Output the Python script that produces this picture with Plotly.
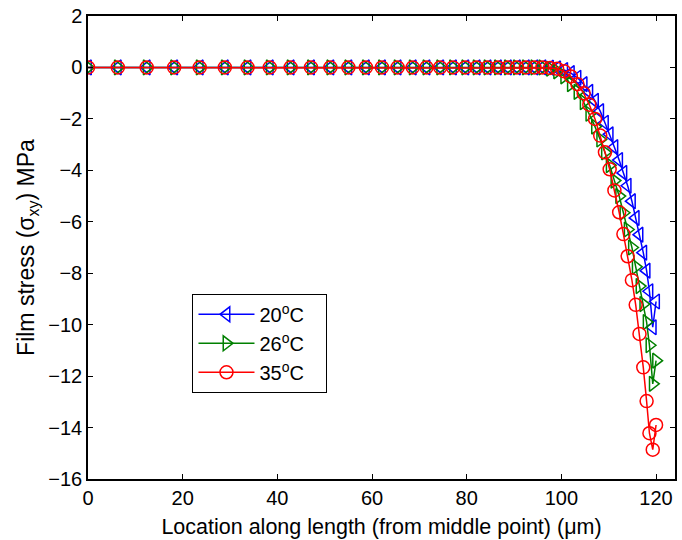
import plotly.graph_objects as go

x_um = [0, 6.3, 12.4, 18.2, 23.6, 28.9, 33.7, 38.4, 42.8, 47.1, 51.2, 55.0, 58.7, 62.1,
        65.4, 68.6, 71.5, 74.4, 77.1, 79.7, 82.1, 84.4, 86.6, 88.7, 90.6, 92.5, 94.3, 96.0,
        97.6, 99.1, 100.6, 102.0, 103.4, 104.7, 105.9, 107.1, 108.2, 109.2, 110.2, 111.2,
        112.2, 113.1, 114.0, 114.9, 115.7, 116.5, 117.3, 118.0, 118.6, 119.3, 120.0]

flat = [0.0] * 28

stress_20C = flat + [-0.01, -0.04, -0.1, -0.22, -0.4, -0.65, -0.95, -1.3, -1.7, -2.15, -2.6,
                     -3.1, -3.6, -4.1, -4.6, -5.2, -5.85, -6.5, -7.2, -7.9, -8.7, -10.1, -9.1]
stress_26C = flat + [-0.05, -0.15, -0.35, -0.65, -0.95, -1.35, -1.8, -2.3, -2.8, -3.3, -3.8,
                     -4.4, -5.0, -5.65, -6.3, -7.0, -7.75, -8.5, -9.2, -9.9, -10.8, -12.3, -11.4]
stress_35C = flat + [-0.02, -0.05, -0.15, -0.35, -0.65, -1.0, -1.45, -2.0, -2.65, -3.3, -3.96,
                     -4.78, -5.63, -6.48, -7.34, -8.27, -9.23, -10.36, -11.66, -12.97, -14.22, -14.86, -13.9]

series = [
    ("20<sup>o</sup>C\u00a0\u00a0\u00a0", stress_20C, "#0000FF", "triangle-left-open"),
    ("26<sup>o</sup>C\u00a0\u00a0\u00a0", stress_26C, "#008000", "triangle-right-open"),
    ("35<sup>o</sup>C\u00a0\u00a0\u00a0", stress_35C, "#FF0000", "circle-open"),
]

fig = go.Figure()
for name, ys, color, sym in series:
    fig.add_trace(go.Scatter(
        x=x_um, y=ys, name=name, mode="lines+markers",
        line=dict(color=color, width=1.5),
        marker=dict(symbol=sym, size=13, color=color, line=dict(width=1.5, color=color)),
    ))

fam = "Liberation Sans, Arial, sans-serif"
fig.update_layout(
    width=682, height=540,
    margin=dict(l=88, r=5, t=14, b=58),
    paper_bgcolor="white", plot_bgcolor="white",
    font=dict(family=fam, size=20, color="black"),
    showlegend=True,
    legend=dict(x=0.178, y=0.40, xanchor="left", yanchor="top",
                bordercolor="black", borderwidth=1, bgcolor="white",
                itemwidth=56,
                font=dict(family=fam, size=20)),
)
fig.update_xaxes(
    range=[0, 124], tickvals=[0, 20, 40, 60, 80, 100, 120],
    ticks="inside", ticklen=5, tickwidth=1, tickcolor="black",
    tickfont=dict(size=20),
    showline=True, linecolor="black", linewidth=1.5, mirror="ticks",
    showgrid=False, zeroline=False,
    title=dict(text="Location along length (from middle point) (μm)", standoff=11,
               font=dict(size=21.5)),
)
fig.update_yaxes(
    range=[-16, 2], dtick=2,
    ticks="inside", ticklen=5, tickwidth=1, tickcolor="black",
    tickfont=dict(size=20),
    showline=True, linecolor="black", linewidth=1.5, mirror="ticks",
    showgrid=False, zeroline=False,
    title=dict(text="Film stress (σ<sub>xy</sub>) MPa", standoff=7,
               font=dict(size=23)),
)
fig.write_html("out.html")
